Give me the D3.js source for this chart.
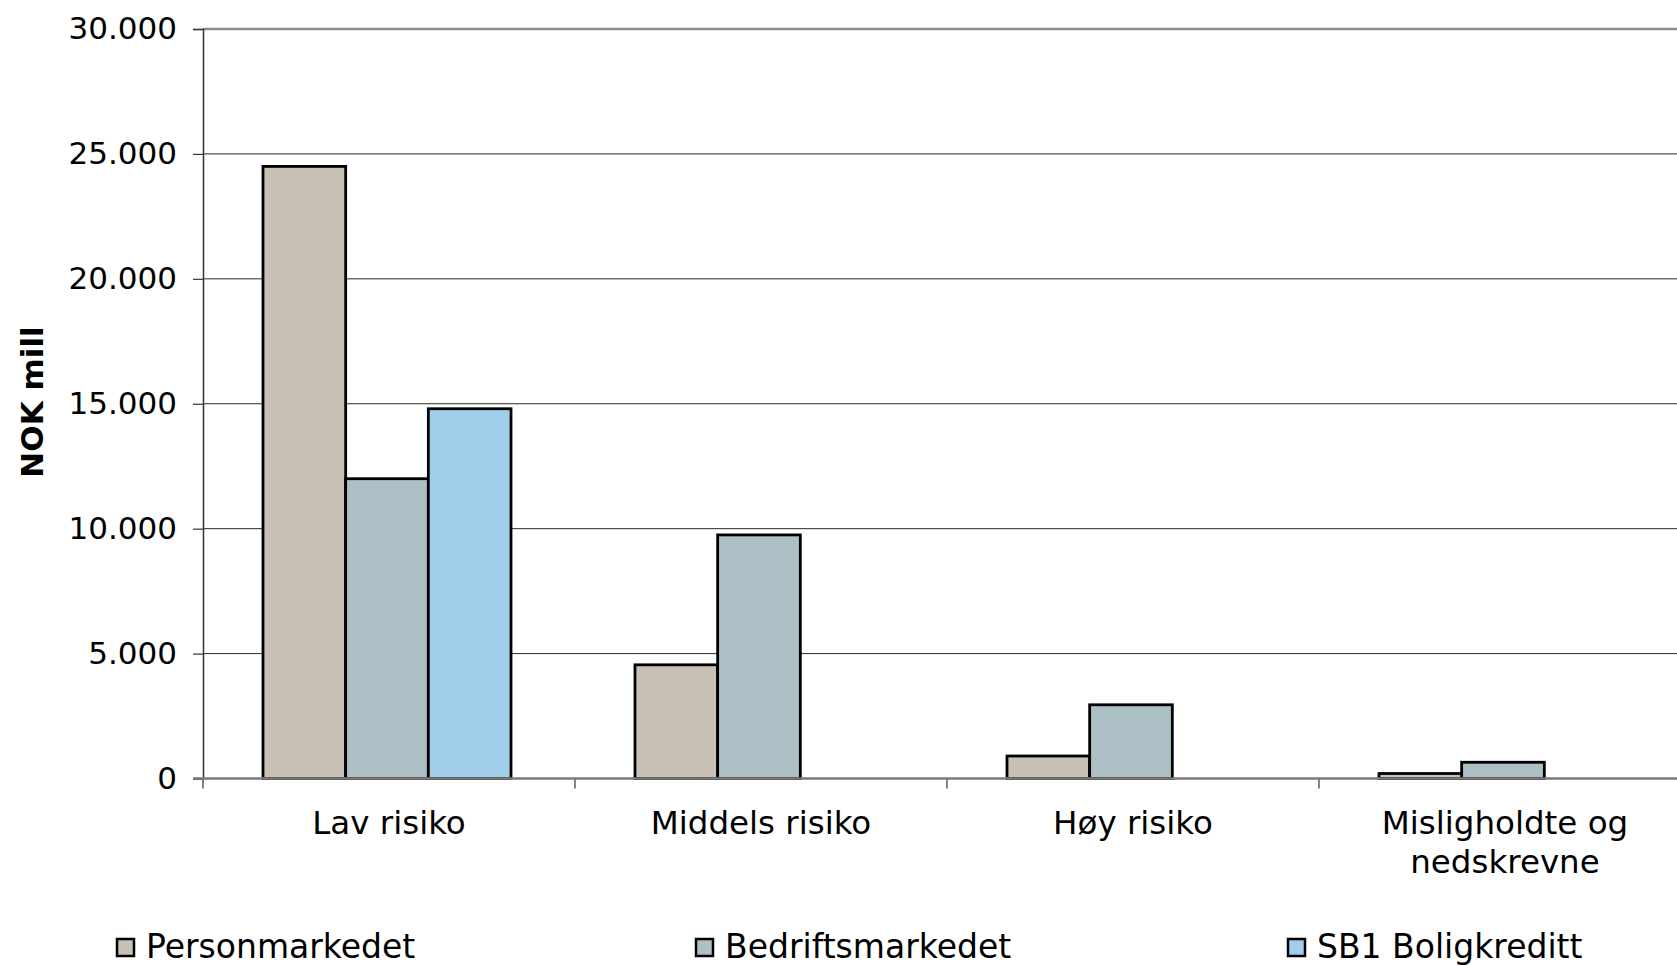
<!DOCTYPE html>
<html>
<head>
<meta charset="utf-8">
<script src="https://cdn.jsdelivr.net/npm/d3@7"></script>
<style>
   body { margin: 0; background: #fff; }
   svg { display: block; font-family: 'DejaVu Sans', Verdana, sans-serif; }
</style>
</head>
<body>
<script>
// data
let categories = ['Lav risiko', 'Middels risiko', 'Høy risiko', 'Misligholdte og\nnedskrevne'];
let seriesNames = ['Personmarkedet', 'Bedriftsmarkedet', 'SB1 Boligkreditt'];
let personmarkedet = [24500, 4550, 900, 200];
let bedriftsmarkedet = [12000, 9750, 2950, 650];
let sb1Boligkreditt = [14800, 0, 0, 0];
let yTicks = [0, 5000, 10000, 15000, 20000, 25000, 30000];
let colors = ['#c9c0b6', '#adc0c6', '#a1cfeb'];

// canvas
let width = 1677;
let height = 965;
let plotLeft = 203;
let plotTop = 29;
let plotBottom = 778.5;
let step = 372;

let svg = d3.select('body').append('svg')
   .attr('width', width)
   .attr('height', height);

let seriesValues = [personmarkedet, bedriftsmarkedet, sb1Boligkreditt];
let rows = [];
categories.forEach((c, i) => {
   seriesNames.forEach((s, j) => {
      rows.push({ cat: c, series: s, value: seriesValues[j][i] });
   });
});

// scales
let x0 = d3.scaleBand()
   .domain(categories)
   .range([plotLeft, plotLeft + step * categories.length])
   .padding(0);
let x1 = d3.scaleBand()
   .domain(seriesNames)
   .range([-2, x0.bandwidth() - 2])
   .paddingInner(0)
   .paddingOuter(0.75);     // Excel gap width 150%
let yScale = d3.scaleLinear()
   .domain([0, 30000])
   .range([plotBottom, plotTop]);
let colorScale = d3.scaleOrdinal()
   .domain(seriesNames)
   .range(colors);

// gridlines
svg.append('g')
   .selectAll('line')
   .data(yTicks.filter(t => t > 0 && t < 30000))
   .enter()
   .append('line')
   .attr('x1', plotLeft)
   .attr('x2', width)
   .attr('y1', d => yScale(d))
   .attr('y2', d => yScale(d))
   .attr('stroke', '#2a2a2a')
   .attr('stroke-width', 1);
// top border of plot area
svg.append('line')
   .attr('x1', plotLeft)
   .attr('x2', width)
   .attr('y1', yScale(30000))
   .attr('y2', yScale(30000))
   .attr('stroke', '#8c8c8c')
   .attr('stroke-width', 2.5);

// bars
svg.append('g')
   .selectAll('rect')
   .data(rows.filter(d => d.value > 0))
   .enter()
   .append('rect')
   .attr('x', d => x0(d.cat) + x1(d.series))
   .attr('y', d => yScale(d.value))
   .attr('width', x1.bandwidth())
   .attr('height', d => plotBottom - yScale(d.value))
   .attr('fill', d => colorScale(d.series))
   .attr('stroke', '#000')
   .attr('stroke-width', 2.8);

// y axis
let yAxis = d3.axisLeft(yScale)
   .tickValues(yTicks)
   .tickSize(10)
   .tickPadding(16)
   .tickFormat(d => d3.format(',')(d).replace(/,/g, '.'));
let yG = svg.append('g')
   .attr('transform', 'translate(' + plotLeft + ',0)')
   .call(yAxis);
yG.select('.domain').attr('stroke', '#333').attr('stroke-width', 1.5);
yG.selectAll('.tick line').attr('stroke', '#333').attr('stroke-width', 1.2);
yG.selectAll('.tick text')
   .attr('fill', '#000')
   .style('font-size', '31px')
   .style('font-family', "'DejaVu Sans', Verdana, sans-serif");

// x axis (ticks between categories)
let xBounds = d3.range(categories.length + 1).map(i => plotLeft + i * step);
svg.append('g')
   .selectAll('line')
   .data(xBounds)
   .enter()
   .append('line')
   .attr('x1', d => d)
   .attr('x2', d => d)
   .attr('y1', plotBottom)
   .attr('y2', plotBottom + 10)
   .attr('stroke', '#333')
   .attr('stroke-width', 1.2);
svg.append('line')
   .attr('x1', plotLeft - 10)
   .attr('x2', width)
   .attr('y1', plotBottom)
   .attr('y2', plotBottom)
   .attr('stroke', '#7a7a7a')
   .attr('stroke-width', 2.5);

// category labels
let catLabels = svg.append('g')
   .selectAll('text')
   .data(categories)
   .enter()
   .append('text')
   .attr('text-anchor', 'middle')
   .attr('font-size', '32.5px')
   .attr('fill', '#000')
   .attr('x', d => x0(d) + x0.bandwidth() / 2)
   .attr('y', 834);
catLabels.selectAll('tspan')
   .data(d => d.split('\n'))
   .enter()
   .append('tspan')
   .attr('x', function() { return d3.select(this.parentNode).attr('x'); })
   .attr('dy', (d, i) => i === 0 ? 0 : 39)
   .text(d => d);

// y axis caption
svg.append('text')
   .attr('transform', 'translate(32,402) rotate(-90)')
   .attr('text-anchor', 'middle')
   .attr('dominant-baseline', 'central')
   .attr('font-size', '31px')
   .attr('font-weight', 'bold')
   .text('NOK mill');

// legend
let legendX = [116, 695, 1287];
let legend = svg.append('g')
   .selectAll('g')
   .data(seriesNames)
   .enter()
   .append('g')
   .attr('transform', (d, i) => 'translate(' + legendX[i] + ',0)');
legend.append('rect')
   .attr('x', 1)
   .attr('y', 939)
   .attr('width', 17)
   .attr('height', 17)
   .attr('fill', d => colorScale(d))
   .attr('stroke', '#000')
   .attr('stroke-width', 2.5);
legend.append('text')
   .attr('x', 30)
   .attr('y', 958)
   .attr('font-size', '33px')
   .attr('fill', '#000')
   .text(d => d);
</script>
</body>
</html>
